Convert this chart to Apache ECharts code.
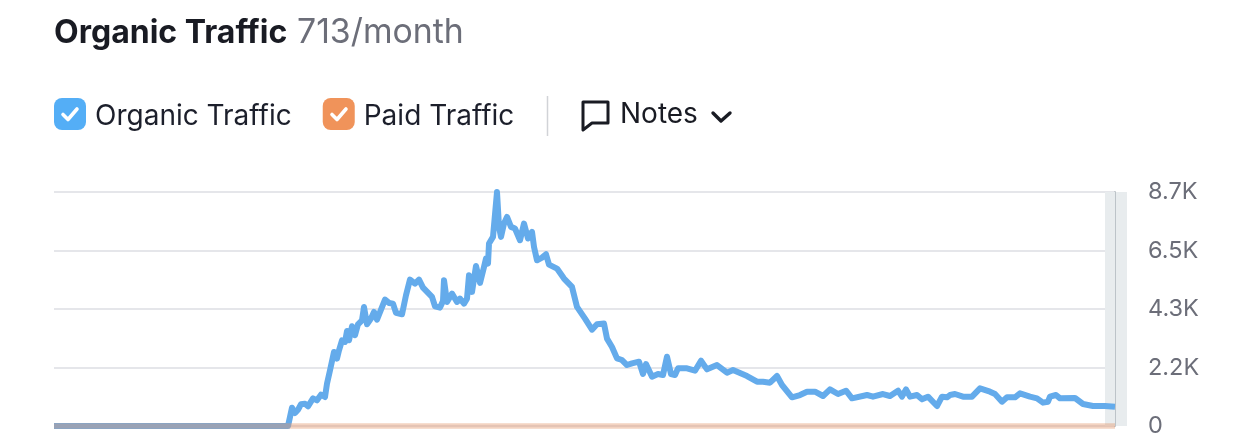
<!DOCTYPE html>
<html><head><meta charset="utf-8">
<style>html,body{margin:0;padding:0;background:#fff}#c{width:1248px;height:448px}</style>
<script src="https://cdn.jsdelivr.net/npm/echarts@6/dist/echarts.min.js"></script>
</head><body><div id="c"></div>
<script>
const periods = [0,234,236,238,241,244,247,251,254,259,263,267,271,273,276,280,283,285,288,291,293,295,298,301,304,308,310,313,317,320,323,331,335,339,342,348,352,356,361,365,369,378,381,386,389,390,393,398,403,406,410,413,415,418,422,426,430,432,434,435,439,443,445,447,450,453,457,461,466,470,474,478,480,483,488,492,495,503,510,518,523,531,538,543,550,553,558,563,568,573,578,585,589,592,598,604,609,613,617,621,624,633,641,647,653,663,673,679,693,703,709,716,723,728,738,746,753,761,769,776,784,792,798,813,819,829,836,844,848,852,856,863,868,874,883,888,893,896,901,909,918,926,936,941,948,953,961,966,976,983,989,994,996,1002,1006,1021,1029,1039,1051,1061];
const organic = [0,0,335,680,484,607,806,830,732,1029,955,1166,1079,1575,2071,2753,2505,2815,3187,3125,3534,3187,3708,3373,3782,3931,4427,3782,3993,4241,3956,4700,4576,4551,4204,4154,4861,5444,5295,5444,5146,4800,4452,4402,4650,5419,4613,4923,4613,4737,4551,4737,5605,4985,5952,5320,5915,6225,6039,6783,7031,8700,7403,7031,7527,7775,7403,7341,6907,7527,6969,7217,6659,6163,6262,6386,6002,5853,5481,5171,4427,3993,3584,3782,3807,3249,2939,2515,2453,2267,2329,2391,1933,2304,1834,1933,1896,2577,1933,1896,2143,2143,2057,2428,2106,2267,1982,2081,1858,1648,1648,1611,1858,1524,1066,1152,1276,1276,1115,1363,1189,1313,1028,1152,1090,1189,1115,1313,1090,1363,1090,1152,991,1090,743,1090,1066,1152,1189,1090,1090,1400,1276,1189,904,1066,1066,1214,1090,1028,867,904,1090,1152,1028,1041,818,743,743,719];
const paidPeriods = [0,1061];
const paid = [0,0];
const tickLabels = ['0','2.2K','4.3K','6.5K','8.7K'];
const seriesNames = ['Organic Traffic','Paid Traffic'];
const incompleteSpan = [1051,1061];
const axisMax = 8700, axisStep = 2175;

const FONT = 'Inter, "Noto Sans", sans-serif';
const check = (x) => ({type:'polyline', shape:{points:[[x+9,114.5],[x+14,119.5],[x+23,109]]},
  style:{stroke:'#fff', lineWidth:3.6, fill:null, lineCap:'round', lineJoin:'round'}, z:20});
const chart = echarts.init(document.getElementById('c'), null, {renderer:'canvas'});
chart.setOption({
  animation:false,
  backgroundColor:'#fff',
  textStyle:{fontFamily:FONT},
  grid:{left:54, right:133, top:192, height:234, containLabel:false},
  xAxis:{type:'value', min:0, max:1061, show:false},
  yAxis:{type:'value', position:'right', min:0, max:axisMax, interval:axisStep,
    axisLine:{show:true, onZero:false, lineStyle:{color:'#bcc3c8', width:2}}, axisTick:{show:false},
    axisLabel:{margin:33, color:'#6c6e79', fontSize:23.5, fontFamily:FONT,
      formatter:(v)=>tickLabels[Math.round(v/axisStep)]},
    splitLine:{show:true, lineStyle:{color:'#e5e6ea', width:2}}},
  legend:{show:true, left:54, top:98, itemWidth:32, itemHeight:32, itemGap:31, padding:0, selectedMode:false,
    icon:'roundRect', data:seriesNames,
    formatter:(n)=>'{t|'+n+'}',
    textStyle:{fontSize:28, color:'#1c1f2b', fontFamily:FONT, padding:[0,0,0,4],
      rich:{t:{fontSize:28, color:'#1c1f2b', fontFamily:FONT, padding:[6,0,0,0]}}}},
  series:[
    {name:seriesNames[0], type:'line', showSymbol:false, clip:false, z:3,
      data:periods.map((p,i)=>[p,organic[i]]),
      itemStyle:{color:'#54aef6'},
      lineStyle:{color:'#64abeb', width:6, cap:'butt', join:'round'},
      markArea:{silent:true, itemStyle:{color:'#e8ecee'}, data:[[{xAxis:incompleteSpan[0]},{xAxis:incompleteSpan[1]}]]}},
    {name:seriesNames[1], type:'line', showSymbol:false, clip:false, z:4,
      data:paidPeriods.map((p,i)=>[p,paid[i]]),
      itemStyle:{color:'#f0935a'},
      lineStyle:{color:'rgba(226,150,108,0.42)', width:5.5}}
  ],
  graphic:[
    {type:'rect', z:-1, shape:{x:1116,y:192,width:11,height:234}, style:{fill:'#e8ecee'}},
    {type:'text', z:20, style:{x:54,y:33,text:'Organic Traffic',font:'700 32px '+FONT,fill:'#191b23',textVerticalAlign:'middle'}},
    {type:'text', z:20, style:{x:297,y:33,text:'713/month',font:'400 33.8px '+FONT,fill:'#6c6e79',textVerticalAlign:'middle'}},
    check(54), check(323),
    {type:'line', z:20, shape:{x1:547.5,y1:96,x2:547.5,y2:136}, style:{stroke:'#d1d3d7',lineWidth:1.5}},
    {type:'polygon', z:20, shape:{points:[[583,102],[608,102],[608,123],[592,123],[583,130]]}, style:{fill:null,stroke:'#191b23',lineWidth:3,lineJoin:'round'}},
    {type:'text', z:20, style:{x:620,y:115,text:'Notes',font:'400 28px '+FONT,fill:'#191b23',textVerticalAlign:'middle'}},
    {type:'polyline', z:20, shape:{points:[[713,113],[721,121],[730,113]]}, style:{stroke:'#191b23',fill:null,lineWidth:3.4,lineCap:'round',lineJoin:'round'}}
  ]
});
</script></body></html>
